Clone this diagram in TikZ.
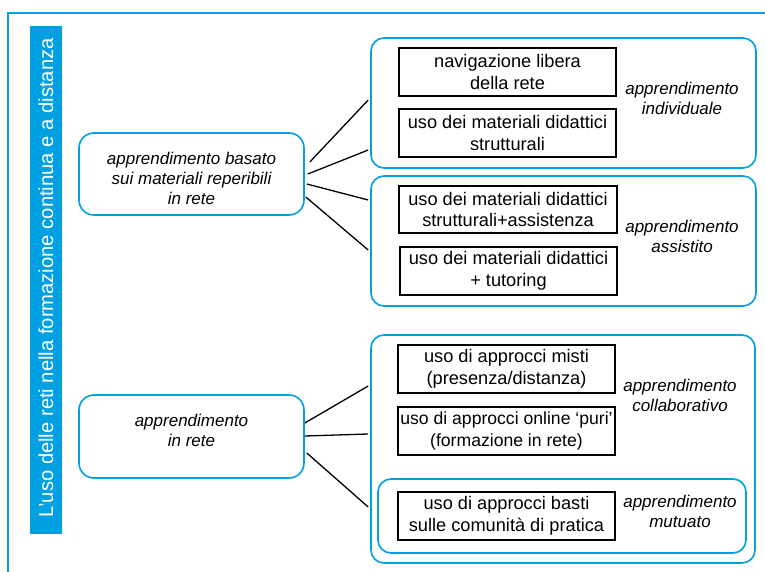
\documentclass[tikz,border=0pt]{standalone}
\usepackage{fontspec}
\setmainfont{Liberation Sans}
\usetikzlibrary{calc}
\definecolor{cyanblue}{RGB}{0,160,227}
\tikzset{
  grp/.style={draw=cyanblue, line width=1.6pt, rounded corners=13pt, minimum width=#1, inner sep=0pt},
  leftbox/.style={draw=cyanblue, line width=1.6pt, rounded corners=15pt, minimum width=225pt, inner sep=0pt},
  itembox/.style={draw=black, line width=1.3pt, minimum width=217pt, minimum height=48pt, inner sep=0pt, align=center,
    font=\fontsize{18.2}{21.5}\selectfont},
  lab/.style={align=center, inner sep=0pt, font=\fontsize{17}{20}\selectfont\itshape},
  conn/.style={draw=black, line width=1.3pt},
}
\begin{document}
\begin{tikzpicture}[x=1pt,y=-1pt]
\useasboundingbox (0,0) rectangle (765,572);
% outer frame
\draw[cyanblue, line width=2pt] (8,580) -- (8,13) -- (775,13);
% title bar
\node[fill=cyanblue, minimum width=32pt, minimum height=508pt, inner sep=0pt] (tbar) at (46,280) {};
\node[rotate=90, text=white, inner sep=0pt, font=\fontsize{20.2}{24}\selectfont] (title) at (46,278) {L’uso delle reti nella formazione continua e a distanza};
% group boxes
\node[grp=385pt, minimum height=130pt] (g1) at (563.5,103) {};
\node[grp=385pt, minimum height=130pt] (g2) at (563.5,241) {};
\node[grp=384pt, minimum height=228pt] (g3) at (563,449) {};
\node[grp=368pt, minimum height=74pt] (g4) at (562,516) {};
% left boxes
\node[leftbox, minimum height=82pt] (b1) at (191.5,174) {};
\node[lab] (b1t) at (191.5,178) {apprendimento basato\\sui materiali reperibili\\in rete};
\node[leftbox, minimum height=83pt] (b2) at (191.5,436.5) {};
\node[lab] (b2t) at (191.5,430.5) {apprendimento\\in rete};
% item boxes
\node[itembox] (nav) at (507.5,72) {navigazione libera\\della rete};
\node[itembox] (mat) at (507.5,133) {uso dei materiali didattici\\strutturali};
\node[itembox, minimum width=218pt, minimum height=47pt] (ass) at (508,209.5) {uso dei materiali didattici\\strutturali+assistenza};
\node[itembox] (tut) at (508.5,271) {uso dei materiali didattici\\+ tutoring};
\node[itembox] (mis) at (506.5,369) {uso di approcci misti\\(presenza/distanza)};
\node[itembox, font=\fontsize{17.6}{21.5}\selectfont] (pur) at (506.5,431) {uso di approcci online ‘puri’\\(formazione in rete)};
\node[itembox] (bas) at (506.5,516) {uso di approcci basti\\sulle comunità di pratica};
% labels
\node[lab] (lind) at (682,98) {apprendimento\\individuale};
\node[lab] (lass) at (682,236) {apprendimento\\assistito};
\node[lab] (lcol) at (680,395) {apprendimento\\collaborativo};
\node[lab] (lmut) at (680,511) {apprendimento\\mutuato};
% connectors
\draw[conn] ([xshift=5pt,yshift=12pt]b1.east) -- ([xshift=-2pt,yshift=3pt]g1.west);
\draw[conn] ([xshift=3pt]b1.east) -- ([xshift=-2pt,yshift=-47pt]g1.west);
\draw[conn] ([xshift=2pt,yshift=-10pt]b1.east) -- ([xshift=-2pt,yshift=41pt]g2.west);
\draw[conn] ([xshift=1pt,yshift=-23pt]b1.east) -- ([xshift=-2pt,yshift=-9pt]g2.west);
\draw[conn] ([yshift=13.5pt]b2.east) -- ([xshift=-2pt,yshift=63pt]g3.west);
\draw[conn] ([yshift=0.5pt]b2.east) -- ([xshift=-2pt,yshift=15pt]g3.west);
\draw[conn] ([xshift=2pt,yshift=-16.5pt]b2.east) -- ([xshift=-2pt,yshift=-58pt]g3.west);
\end{tikzpicture}
\end{document}
